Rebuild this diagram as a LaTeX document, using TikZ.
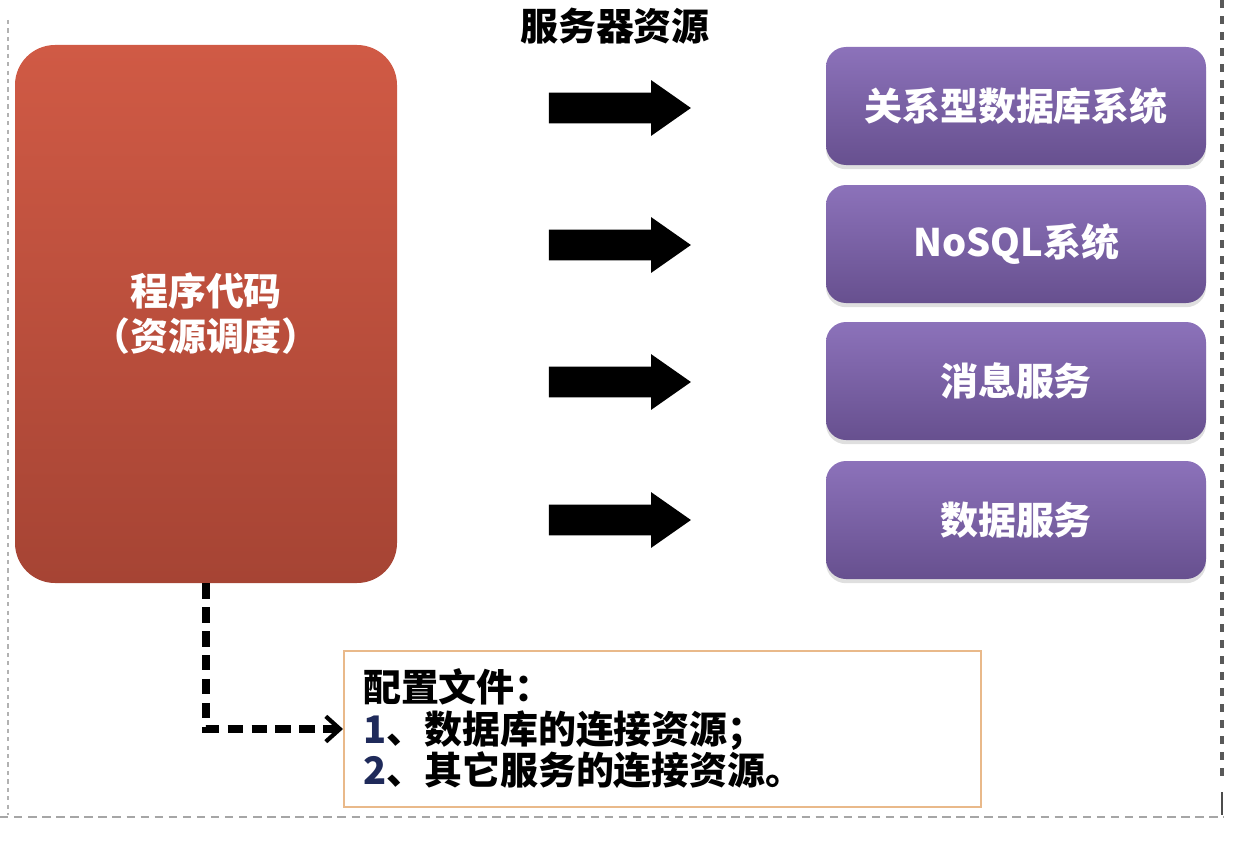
\documentclass[tikz,border=0pt]{standalone}
\usepackage{fontspec}
\setmainfont{Noto Sans CJK SC}
\usepackage{xcolor}
\usepackage{tikz}
\usetikzlibrary{arrows.meta, shapes.arrows, shadows}
\definecolor{codetop}{HTML}{D05A45}
\definecolor{codebot}{HTML}{A64434}
\definecolor{restop}{HTML}{8C72BA}
\definecolor{resbot}{HTML}{67508F}
\definecolor{cfgline}{HTML}{E9B98A}
\definecolor{numblue}{HTML}{1F2A5A}
\tikzset{every node/.append style={font=\fontsize{27}{30}\selectfont\bfseries}}
\tikzset{
  codebox/.style={rounded corners=40*0.025cm, top color=codetop, bottom color=codebot,
    draw=none, text=white, align=center, minimum width=382*0.025cm, minimum height=538*0.025cm,
    font=\fontsize{27}{32}\selectfont\bfseries},
  resbox/.style={rounded corners=20*0.025cm, top color=restop, bottom color=resbot,
    draw=none, text=white, minimum width=380*0.025cm, minimum height=118*0.025cm,
    drop shadow={opacity=0.25, shadow xshift=0pt, shadow yshift=-3pt}},
  blockarrow/.style={single arrow, fill=black, inner xsep=0pt, inner ysep=15*0.025cm,
    minimum height=142*0.025cm, single arrow head extend=12.5*0.025cm, single arrow tip angle=70},
  cfgbox/.style={draw=cfgline, line width=1.5pt, fill=white, anchor=west, align=left,
    text width=599*0.025cm, inner xsep=19*0.025cm, minimum height=156*0.025cm,
    font=\fontsize{27}{29.5}\selectfont\bfseries}
}

\begin{document}
\begin{tikzpicture}[x=0.025cm, y=-0.025cm]
    \useasboundingbox (0,0) rectangle (1240,840);
    % frame
    \draw[gray!60, dashed, line width=0.8pt] (8,20) -- (8,815);
    \draw[gray!70, dash pattern=on 6pt off 4pt, line width=0.8pt] (0,817) -- (1224,817);
    \foreach \y in {0,16,...,780}
        \fill[black!65] (1220,\y) rectangle (1224,\y+8);
    \fill[black!70] (1221,792) rectangle (1223,815);

    \node[codebox] (code) at (206,314) {程序代码\\（资源调度）};
    \node (title) at (615,26) {服务器资源};

    \node[resbox] (rdb) at (1016,106) {关系型数据库系统};
    \node[resbox] (nosql) at (1016,244) {NoSQL系统};
    \node[resbox] (mq) at (1016,381) {消息服务};
    \node[resbox] (data) at (1016,520) {数据服务};

    \node[blockarrow] (a1) at (609,108) {};
    \node[blockarrow] (a2) at (609,245) {};
    \node[blockarrow] (a3) at (609,382) {};
    \node[blockarrow] (a4) at (609,520) {};

    \node[cfgbox] (cfg) at (343,729) {配置文件：\\{\color{numblue}1}、数据库的连接资源；\\{\color{numblue}2}、其它服务的连接资源。};

    \draw[line width=5pt, dash pattern=on 11pt off 6pt, -{Straight Barb[length=10pt, width=18pt, line width=3pt]}]
        (code.south) |- (cfg.west);
\end{tikzpicture}
\end{document}
